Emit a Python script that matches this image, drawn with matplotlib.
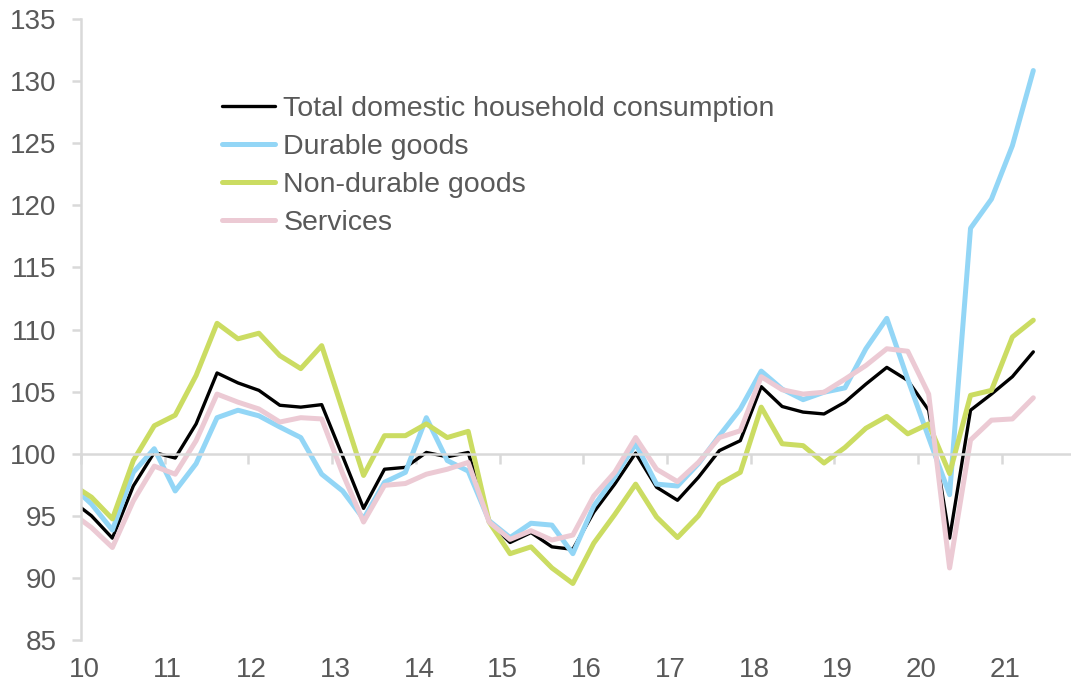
import numpy as np
import pandas as pd
import matplotlib
matplotlib.use('Agg')
import matplotlib.pyplot as plt

plt.rcParams['font.family'] = ['Liberation Sans', 'Arial', 'DejaVu Sans']

# Quarterly index values, 2009Q4 .. 2021Q2 (first point sits just left of the axis)
quarters = pd.period_range('2009Q4', '2021Q2', freq='Q')

total = [96.3, 95.0, 93.2, 97.4, 100.1, 99.65, 102.4, 106.5, 105.7, 105.1, 103.9, 103.75,
         103.95, 99.8, 95.6, 98.75, 98.9, 100.1, 99.75, 100.1, 94.5, 92.85, 93.65, 92.5,
         92.3, 95.3, 97.55, 100.05, 97.3, 96.25, 98.1, 100.25, 101.05, 105.4, 103.8, 103.35,
         103.2, 104.15, 105.6, 106.95, 105.9, 103.5, 93.2, 103.5, 104.8, 106.2, 108.2]
durable = [97.5, 95.95, 93.85, 98.5, 100.4, 97.0, 99.2, 102.9, 103.5, 103.05, 102.15, 101.3,
           98.35, 97.0, 94.75, 97.7, 98.5, 102.9, 99.45, 98.6, 94.6, 93.25, 94.4, 94.25,
           91.95, 95.8, 98.1, 100.8, 97.55, 97.4, 99.2, 101.45, 103.6, 106.65, 105.2, 104.35,
           104.95, 105.3, 108.45, 110.9, 106.0, 101.3, 96.7, 118.15, 120.5, 124.8, 130.85]
nondurable = [97.6, 96.5, 94.75, 99.45, 102.25, 103.1, 106.3, 110.5, 109.25, 109.7, 107.9, 106.85,
              108.7, 103.5, 98.25, 101.45, 101.45, 102.4, 101.3, 101.8, 94.5, 91.95, 92.5, 90.8,
              89.55, 92.8, 95.1, 97.55, 94.9, 93.25, 95.0, 97.55, 98.5, 103.75, 100.8, 100.65,
              99.25, 100.5, 102.05, 103.0, 101.6, 102.4, 98.4, 104.7, 105.1, 109.4, 110.75]
services = [95.3, 94.05, 92.45, 96.2, 99.0, 98.35, 101.05, 104.8, 104.15, 103.6, 102.55, 102.9,
            102.8, 98.4, 94.5, 97.45, 97.6, 98.35, 98.75, 99.3, 94.5, 93.1, 93.8, 93.05,
            93.45, 96.6, 98.5, 101.3, 98.75, 97.75, 99.3, 101.3, 101.85, 106.2, 105.15, 104.8,
            104.95, 106.0, 107.1, 108.45, 108.25, 104.8, 90.8, 101.1, 102.7, 102.8, 104.5]

series_names = ['Total domestic household consumption', 'Durable goods',
                'Non-durable goods', 'Services']
year_labels = [str(y) for y in range(10, 22)]

x = np.array([(p.year - 2010) * 4 + (p.quarter - 1) for p in quarters])

grey = '#D9D9D9'
text_col = '#595959'

fig = plt.figure(figsize=(10.71, 6.89), dpi=100)
ax = fig.add_axes([81 / 1071, 1 - 640 / 689, (1110 - 81) / 1071, (640 - 19) / 689])

styles = [('black', 2.4), ('#93D6F6', 3.6), ('#CBDC62', 3.6), ('#ECCAD4', 3.6)]
for vals, name, (col, lw) in zip([total, durable, nondurable, services], series_names, styles):
    ax.plot(x, vals, color=col, lw=lw, label=name,
            solid_joinstyle='round', solid_capstyle='round')

ax.set_xlim(-0.5, -0.5 + (1110 - 81) / 20.93)
ax.set_ylim(85, 135)
ax.set_yticks(np.arange(85, 136, 5))

for side in ['top', 'right']:
    ax.spines[side].set_visible(False)
for side in ['left', 'bottom']:
    ax.spines[side].set_color(grey)
    ax.spines[side].set_linewidth(1.8)
ax.spines['bottom'].set_position(('data', 100))

year_pos = np.arange(len(year_labels)) * 4 - 0.5
ax.set_xticks(year_pos)
ax.tick_params(axis='x', direction='out', length=7, width=1.8, color=grey, labelbottom=False)
ax.tick_params(axis='y', direction='out', length=6.5, width=1.8, color=grey,
               labelsize=20, labelcolor=text_col, pad=11)

sec = ax.secondary_xaxis('bottom')
sec.set_xticks(year_pos + 0.15, year_labels)
sec.tick_params(length=0, labelsize=20, labelcolor=text_col, pad=12)
sec.spines['bottom'].set_visible(False)

leg = ax.legend(loc='upper left', bbox_to_anchor=(222 / 1071, 1 - 96 / 689),
                bbox_transform=fig.transFigure, frameon=False, fontsize=20.5,
                handlelength=1.85, handletextpad=0.3, labelspacing=0.42,
                borderpad=0, borderaxespad=0)
for t in leg.get_texts():
    t.set_color(text_col)

fig.savefig('out.png', dpi=100)
